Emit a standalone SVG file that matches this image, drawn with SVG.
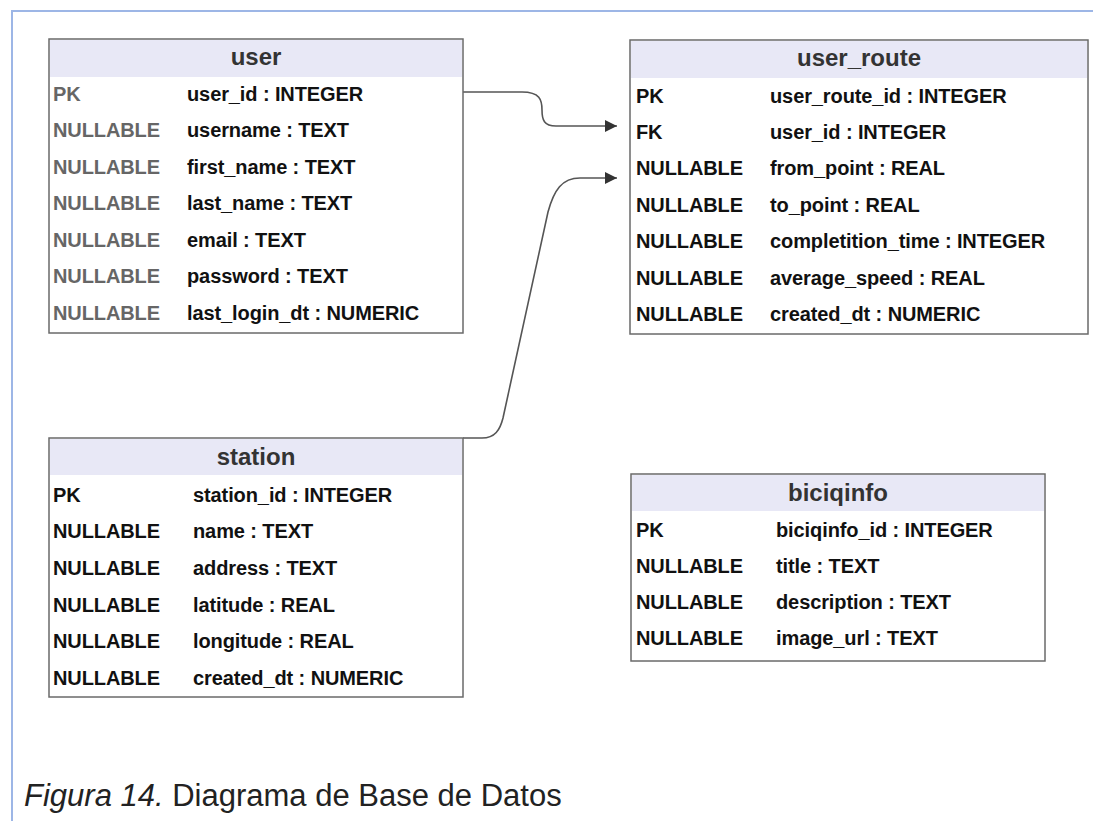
<svg xmlns="http://www.w3.org/2000/svg" width="1093" height="821" viewBox="0 0 1093 821">
<style>
.box{fill:#ffffff;stroke:#6a6a6a;stroke-width:1.5}
.hdr{fill:#e8e8f6}
.title{font-family:"Liberation Sans",Arial,sans-serif;font-weight:bold;font-size:24px;fill:#333;text-anchor:middle}
.t{font-family:"Liberation Sans",Arial,sans-serif;font-weight:bold;font-size:20px;fill:#111;letter-spacing:-0.1px}
.g{fill:#666}
.conn{fill:none;stroke:#555;stroke-width:1.6}
.cap{font-family:"Liberation Sans",Arial,sans-serif;font-size:31px;fill:#222}
</style>
<defs>
<marker id="arr" viewBox="0 0 10 10" refX="10" refY="5" markerWidth="12" markerHeight="12" markerUnits="userSpaceOnUse" orient="auto">
<path d="M0,0 L10,5 L0,10 z" fill="#333"/>
</marker>
</defs>
<rect width="1093" height="821" fill="#ffffff"/>
<path d="M12,821 V11 H1093" fill="none" stroke="#9db6e6" stroke-width="2"/>

<g id="connectors">
<path class="conn" marker-end="url(#arr)" d="M463,92 H522 C540,92 542,100 542,110 C542,120 544,126 556,126 H617"/>
<path class="conn" marker-end="url(#arr)" d="M463,438 H482 C495,438 500,430 503,418 L548,212 C554,190 562,178 580,178 H617"/>
</g>

<g id="user">
<rect class="box" x="49" y="39" width="414" height="294"/>
<rect class="hdr" x="50" y="40" width="412" height="37"/>
<text class="title" x="256" y="65">user</text>
<text class="t g" x="53" y="101">PK</text><text class="t" x="187" y="101">user_id : INTEGER</text>
<text class="t g" x="53" y="137">NULLABLE</text><text class="t" x="187" y="137">username : TEXT</text>
<text class="t g" x="53" y="174">NULLABLE</text><text class="t" x="187" y="174">first_name : TEXT</text>
<text class="t g" x="53" y="210">NULLABLE</text><text class="t" x="187" y="210">last_name : TEXT</text>
<text class="t g" x="53" y="247">NULLABLE</text><text class="t" x="187" y="247">email : TEXT</text>
<text class="t g" x="53" y="283">NULLABLE</text><text class="t" x="187" y="283">password : TEXT</text>
<text class="t g" x="53" y="320">NULLABLE</text><text class="t" x="187" y="320">last_login_dt : NUMERIC</text>
</g>

<g id="user_route">
<rect class="box" x="630" y="40" width="458" height="294"/>
<rect class="hdr" x="631" y="41" width="456" height="37"/>
<text class="title" x="859" y="66">user_route</text>
<text class="t" x="636" y="103">PK</text><text class="t" x="770" y="103">user_route_id : INTEGER</text>
<text class="t" x="636" y="139">FK</text><text class="t" x="770" y="139">user_id : INTEGER</text>
<text class="t" x="636" y="175">NULLABLE</text><text class="t" x="770" y="175">from_point : REAL</text>
<text class="t" x="636" y="212">NULLABLE</text><text class="t" x="770" y="212">to_point : REAL</text>
<text class="t" x="636" y="248">NULLABLE</text><text class="t" x="770" y="248">completition_time : INTEGER</text>
<text class="t" x="636" y="285">NULLABLE</text><text class="t" x="770" y="285">average_speed : REAL</text>
<text class="t" x="636" y="321">NULLABLE</text><text class="t" x="770" y="321">created_dt : NUMERIC</text>
</g>

<g id="station">
<rect class="box" x="49" y="438" width="414" height="259"/>
<rect class="hdr" x="50" y="439" width="412" height="36"/>
<text class="title" x="256" y="465">station</text>
<text class="t" x="53" y="502">PK</text><text class="t" x="193" y="502">station_id : INTEGER</text>
<text class="t" x="53" y="538">NULLABLE</text><text class="t" x="193" y="538">name : TEXT</text>
<text class="t" x="53" y="575">NULLABLE</text><text class="t" x="193" y="575">address : TEXT</text>
<text class="t" x="53" y="612">NULLABLE</text><text class="t" x="193" y="612">latitude : REAL</text>
<text class="t" x="53" y="648">NULLABLE</text><text class="t" x="193" y="648">longitude : REAL</text>
<text class="t" x="53" y="685">NULLABLE</text><text class="t" x="193" y="685">created_dt : NUMERIC</text>
</g>

<g id="biciqinfo">
<rect class="box" x="631" y="474" width="414" height="187"/>
<rect class="hdr" x="632" y="475" width="412" height="36"/>
<text class="title" x="838" y="501">biciqinfo</text>
<text class="t" x="636" y="537">PK</text><text class="t" x="776" y="537">biciqinfo_id : INTEGER</text>
<text class="t" x="636" y="573">NULLABLE</text><text class="t" x="776" y="573">title : TEXT</text>
<text class="t" x="636" y="609">NULLABLE</text><text class="t" x="776" y="609">description : TEXT</text>
<text class="t" x="636" y="645">NULLABLE</text><text class="t" x="776" y="645">image_url : TEXT</text>
</g>

<text class="cap" x="24" y="806"><tspan font-style="italic">Figura 14.</tspan> Diagrama de Base de Datos</text>
</svg>
